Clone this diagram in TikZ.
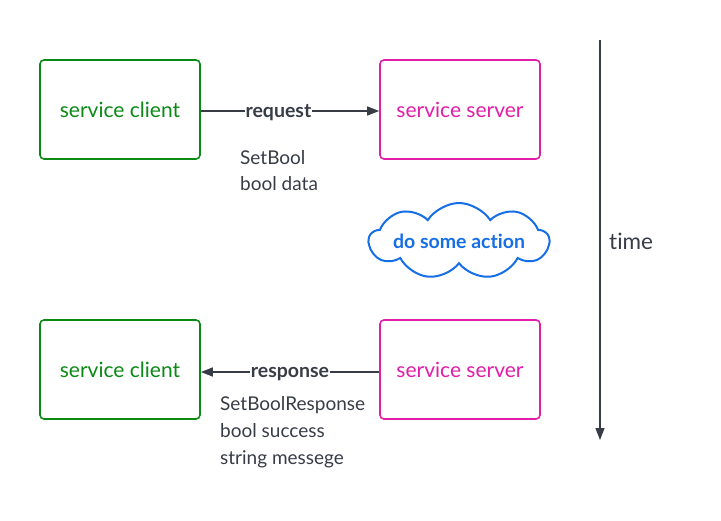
\documentclass[tikz,border=0pt]{standalone}
\usepackage{fontspec}
\setmainfont{Lato}[RawFeature={-liga}]
\usetikzlibrary{shapes.symbols,arrows.meta}
\definecolor{cgreen}{RGB}{10,138,20}
\definecolor{cmag}{RGB}{224,30,168}
\definecolor{cgray}{RGB}{55,60,70}
\definecolor{cblue}{RGB}{22,110,230}
\begin{document}
\begin{tikzpicture}[x=1pt,y=-1pt,
  clientbox/.style={draw=cgreen,line width=1.6pt,rounded corners=4pt,minimum width=160pt,minimum height=99pt,text=cgreen,font=\fontsize{21}{24}\selectfont},
  serverbox/.style={draw=cmag,line width=1.6pt,rounded corners=4pt,minimum width=160pt,minimum height=99pt,text=cmag,font=\fontsize{21}{24}\selectfont},
  msg/.style={draw=cgray,line width=1.3pt,-{Triangle[length=12pt,width=9pt]}},
  lbl/.style={fill=white,inner sep=0.5pt,yshift=-2pt,text=cgray,font=\bfseries\fontsize{19.5}{22}\selectfont},
  info/.style={text=cgray,align=left,anchor=north west,inner sep=0pt,font=\fontsize{19}{26.8}\selectfont},
]
\useasboundingbox (0,0) rectangle (721,520);
\node[clientbox] (c1) at (120,109.5) {service client};
\node[serverbox] (s1) at (460,109.5) {service server};
\node[clientbox] (c2) at (120,369.5) {service client};
\node[serverbox] (s2) at (460,369.5) {service server};
\draw[msg] (c1.east |- 0,111) -- node[lbl,pos=0.435] {request} (s1.west |- 0,111);
\draw[msg] (s2.west |- 0,372) -- node[lbl,pos=0.5] {response} (c2.east |- 0,372);
\node[info] (t1) at (240,150) {SetBool\\bool data};
\node[info] (t2) at (220,396.5) {SetBoolResponse\\bool success\\string messege};
\node[cloud,cloud puffs=9,cloud puff arc=115,aspect=2.33,draw=cblue,line width=2pt,minimum width=180pt,minimum height=76pt,inner sep=0pt] (cl) at (459,241) {};
\node[text=cblue,inner sep=0pt,font=\bfseries\fontsize{19.5}{22}\selectfont] (clt) at (cl.center) {do some action};
\coordinate (ttop) at (600,40);
\coordinate (tbot) at (600,440);
\draw[msg] (ttop) -- (tbot);
\node[text=cgray,anchor=west,inner sep=0pt,font=\fontsize{22.5}{26}\selectfont] (tm) at (609,241) {time};
\end{tikzpicture}
\end{document}
